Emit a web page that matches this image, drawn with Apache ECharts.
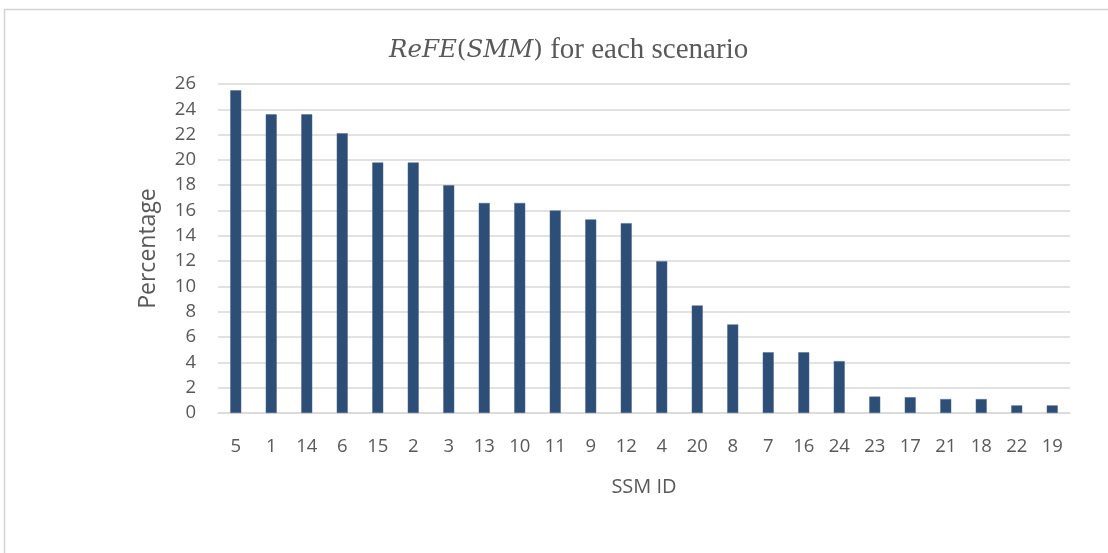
<!DOCTYPE html>
<html>
<head>
<meta charset="utf-8">
<script src="https://cdn.jsdelivr.net/npm/echarts@6/dist/echarts.min.js"></script>
<style>
  html, body { margin: 0; padding: 0; background: #ffffff; }
  #chart { width: 1108px; height: 553px; }
</style>
</head>
<body>
<div id="chart"></div>
<script>
// SSM identifiers, ordered by descending ReFE
const ssmIds = ['5', '1', '14', '6', '15', '2', '3', '13', '10', '11', '9', '12',
                '4', '20', '8', '7', '16', '24', '23', '17', '21', '18', '22', '19'];
// ReFE(SMM) percentage per scenario
const refePercent = [25.5, 23.6, 23.6, 22.1, 19.8, 19.8, 18.0, 16.6, 16.6, 16.0, 15.3, 15.0,
                     12.0, 8.5, 7.0, 4.8, 4.8, 4.1, 1.3, 1.25, 1.1, 1.1, 0.6, 0.6];
// y-axis range and step
const yMin = 0;
const yMax = 26;
const yStep = 2;

const textGray = '#595959';
const labelFont = '"Open Sans", "Noto Sans", sans-serif';
const mathFont = '"DejaVu Serif", "Liberation Serif", serif';
const textFont = '"Liberation Serif", "DejaVu Serif", serif';

const chart = echarts.init(document.getElementById('chart'), null, { renderer: 'canvas' });

chart.setOption({
  animation: false,
  backgroundColor: '#ffffff',
  graphic: [{
    type: 'rect',
    silent: true,
    shape: { x: 4.5, y: 9.5, width: 1300, height: 700 },
    style: { fill: 'none', stroke: '#d4d4d4', lineWidth: 1.5 }
  }],
  title: {
    text: '{i|ReFE}{u|(}{i|SMM}{u|)}{t| for each scenario}',
    left: 384,
    top: 31,
    textStyle: {
      fontWeight: 'normal',
      rich: {
        i: { fontFamily: mathFont, fontStyle: 'italic', fontWeight: 'normal', fontSize: 24.5, color: textGray },
        u: { fontFamily: mathFont, fontWeight: 'normal', fontSize: 24.5, color: textGray },
        t: { fontFamily: textFont, fontWeight: 'normal', fontSize: 29, color: textGray }
      }
    }
  },
  grid: { left: 218, right: 38, top: 84, bottom: 140 },
  xAxis: {
    type: 'category',
    data: ssmIds,
    name: 'SSM ID',
    nameLocation: 'middle',
    nameGap: 64,
    nameTextStyle: { fontFamily: labelFont, fontSize: 20, color: textGray },
    axisLine: { show: true, lineStyle: { color: '#d9d9d9', width: 1.5 } },
    axisTick: { show: false },
    axisLabel: { fontFamily: labelFont, fontSize: 18.5, color: textGray, margin: 24 }
  },
  yAxis: {
    type: 'value',
    min: yMin,
    max: yMax,
    interval: yStep,
    name: 'Percentage',
    nameLocation: 'middle',
    nameGap: 58,
    nameRotate: 90,
    nameTextStyle: { fontFamily: labelFont, fontSize: 23, color: textGray },
    axisLine: { show: false },
    axisTick: { show: false },
    axisLabel: { fontFamily: labelFont, fontSize: 18.5, color: textGray, margin: 22 },
    splitLine: { lineStyle: { color: '#d9d9d9', width: 1.5 } }
  },
  series: [{
    type: 'bar',
    data: refePercent,
    barWidth: '31%',
    itemStyle: { color: '#2d4e76', borderColor: '#50698c', borderWidth: 0.5 }
  }]
});
</script>
</body>
</html>
